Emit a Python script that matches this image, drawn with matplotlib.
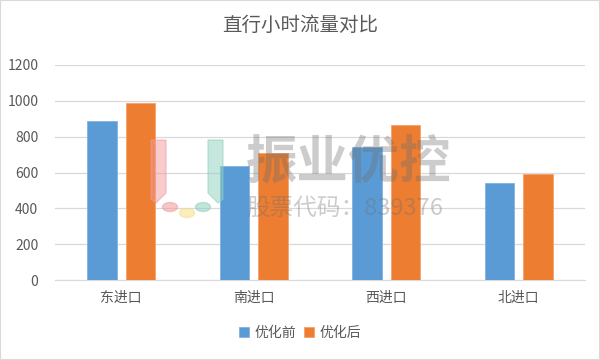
import numpy as np
import matplotlib.pyplot as plt
from matplotlib.patches import Rectangle, Circle, Polygon

plt.rcParams['font.family'] = ['Noto Sans CJK SC', 'DejaVu Sans']

# data
categories = ["东进口", "南进口", "西进口", "北进口"]
before = [885, 637, 741, 542]
after = [988, 710, 866, 593]
series_names = ["优化前", "优化后"]
yticks = [0, 200, 400, 600, 800, 1000, 1200]

blue = "#5b9bd5"
orange = "#ed7d31"
txt = "#595959"

fig = plt.figure(figsize=(6, 3.6), dpi=100)
ax = fig.add_axes([55/600, 80/360, 530/600, 215/360])

x = np.arange(len(categories))
w = 0.225
ax.bar(x - 0.145, before, w, color=blue, edgecolor="#7fb2e0", linewidth=0.6, label=series_names[0], zorder=3)
ax.bar(x + 0.145, after, w, color=orange, edgecolor="#f4a36b", linewidth=0.6, label=series_names[1], zorder=3)

ax.set_xlim(-0.5, len(categories) - 0.5)
ax.set_ylim(0, 1200)
ax.set_yticks(yticks)
ax.set_xticks(x)
ax.set_xticklabels(categories)
ax.tick_params(axis='both', length=0, colors=txt, labelsize=10)
ax.tick_params(axis='x', pad=8)
ax.tick_params(axis='y', pad=12)
ax.grid(axis='y', color="#d9d9d9", linewidth=0.9, zorder=0)
for s in ["top", "right", "left"]:
    ax.spines[s].set_visible(False)
ax.spines["bottom"].set_color("#d9d9d9")

fig.text(0.5, 1 - 25/360, "直行小时流量对比", ha="center", va="center", fontsize=14, color=txt)

leg = fig.legend(loc="center", bbox_to_anchor=(0.5, 1 - 333/360), ncol=2, frameon=False,
                 fontsize=10, handlelength=0.7, handleheight=0.7, handletextpad=0.4, columnspacing=0.6)
for t in leg.get_texts():
    t.set_color(txt)

# watermark (drawn over the plot)
W, H = 600, 360
def fx(px):
    return px / W
def fy(py):
    return 1 - py / H

fig.text(fx(246), fy(162), "振业优控", fontsize=37, color="#6e6e6e", alpha=0.35,
         ha="left", va="center", fontweight="bold", zorder=5)
fig.text(fx(246), fy(208), "股票代码：839376", fontsize=17, color="#6e6e6e", alpha=0.35,
         ha="left", va="center", zorder=5)
fig.patches.append(Polygon([(fx(151), fy(140)), (fx(166), fy(140)), (fx(166), fy(193)), (fx(156), fy(203)), (fx(151), fy(199))],
                           closed=True, transform=fig.transFigure, color="#f29a9a", alpha=0.5, zorder=5))
fig.patches.append(Polygon([(fx(208), fy(140)), (fx(223), fy(140)), (fx(223), fy(199)), (fx(218), fy(203)), (fx(208), fy(193))],
                           closed=True, transform=fig.transFigure, color="#8fd0bd", alpha=0.5, zorder=5))
for cx, cy, c in [(170, 207, "#f29a9a"), (187, 213, "#f6df8a"), (203, 207, "#8fd0bd")]:
    fig.patches.append(Circle((fx(cx), fy(cy)), 7.5/W, transform=fig.transFigure, color=c, alpha=0.55, zorder=5))

fig.patches.append(Rectangle((0, 0), 1, 1, transform=fig.transFigure, fill=False,
                             edgecolor="#d9d9d9", linewidth=1.5, zorder=10))

fig.savefig("out.png", dpi=100)
